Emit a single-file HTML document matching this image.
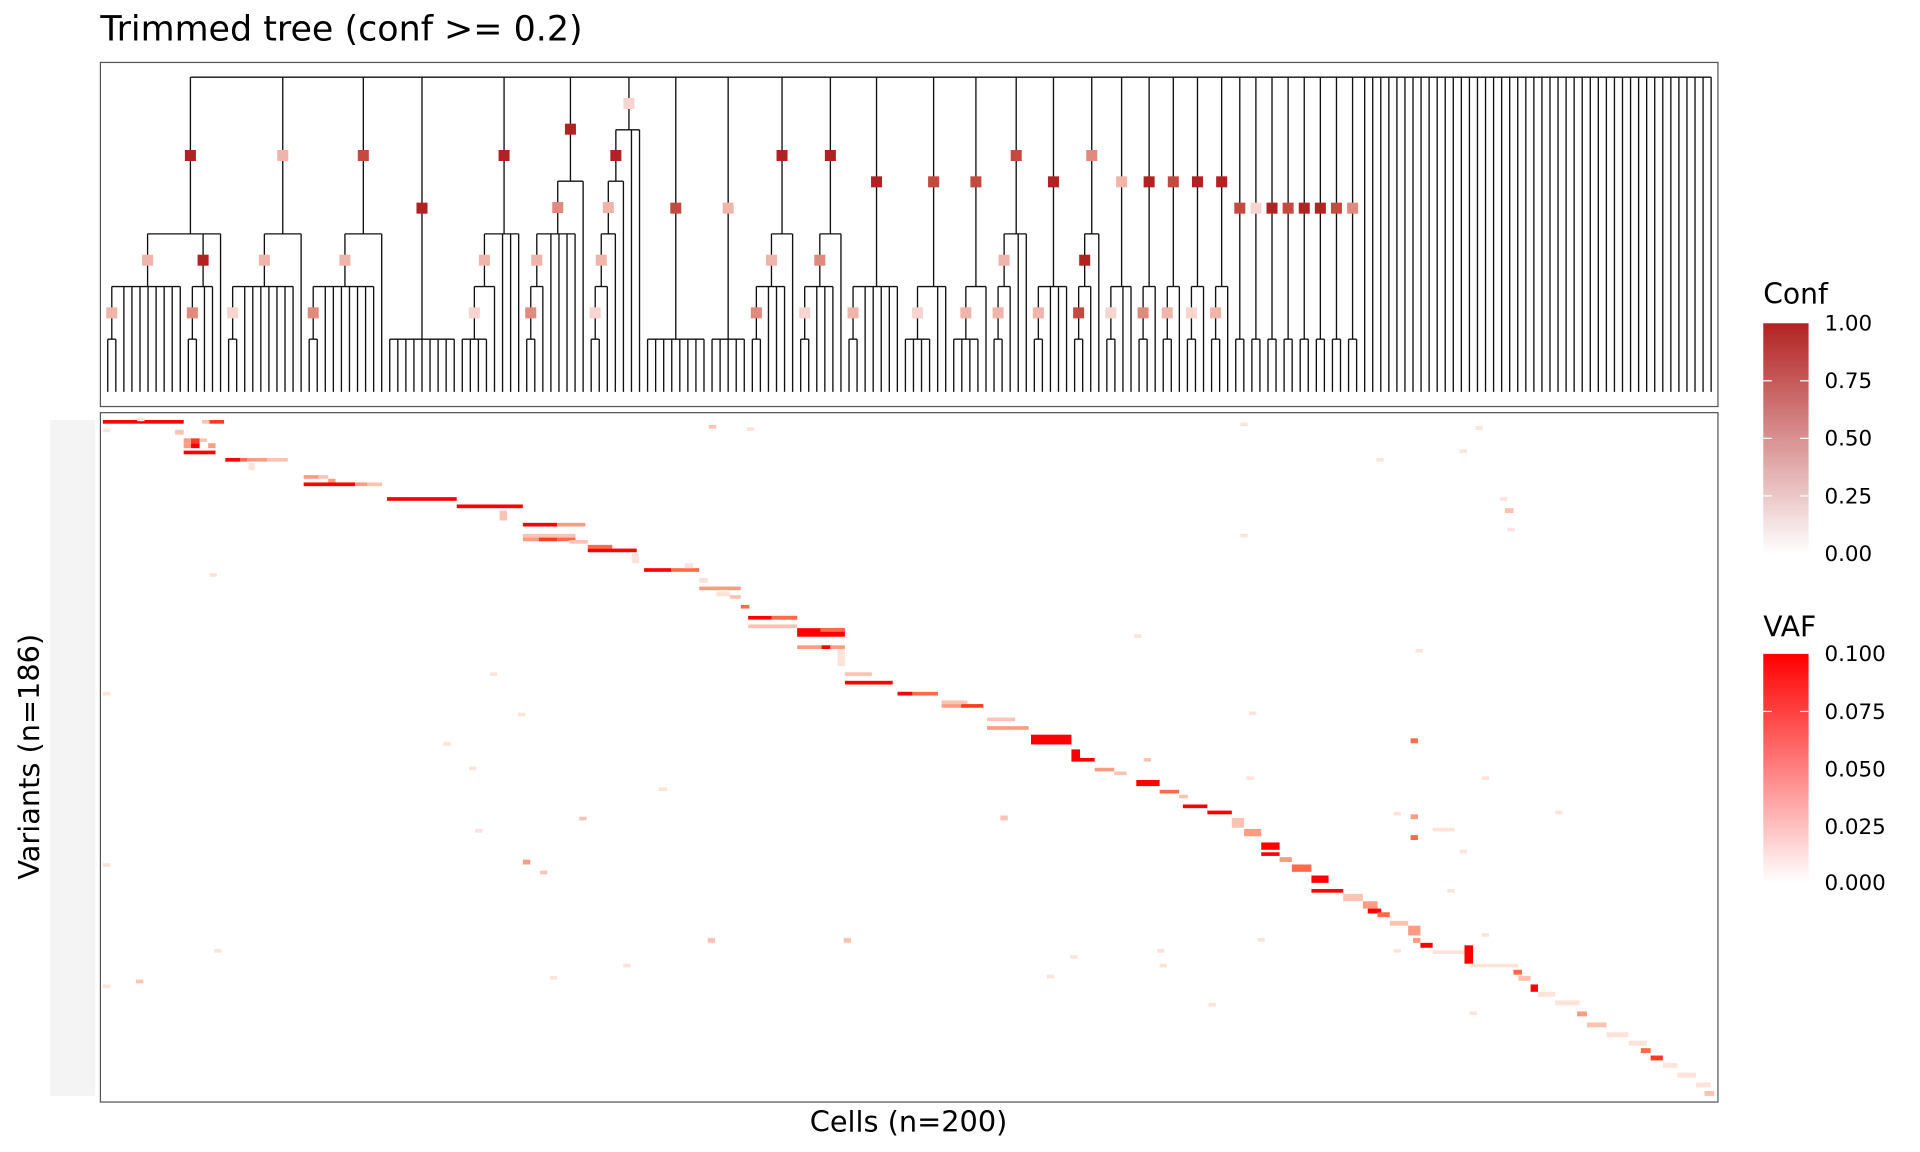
<!DOCTYPE html>
<html><head><meta charset="utf-8"><style>
html,body{margin:0;padding:0;background:#fff;}
svg{display:block;}
text{font-family:"DejaVu Sans","Liberation Sans",sans-serif;fill:#000;}
</style></head><body>
<svg id="s" width="1920" height="1152" viewBox="0 0 1568 940.8" xmlns="http://www.w3.org/2000/svg">
<defs>
<linearGradient id="gc" x1="0" y1="1" x2="0" y2="0"><stop offset="0" stop-color="#ffffff"/><stop offset="1" stop-color="#b22222"/></linearGradient>
<linearGradient id="gv" x1="0" y1="1" x2="0" y2="0"><stop offset="0" stop-color="#ffffff"/><stop offset="1" stop-color="#ff0000"/></linearGradient>
</defs>
<rect width="1568" height="941" fill="#fff"/>
<text x="82" y="33" font-size="28.5">Trimmed tree (conf &gt;= 0.2)</text>
<rect x="82" y="51" width="1321" height="281" fill="none" stroke="#555" stroke-width="1"/>
<rect x="82" y="337" width="1321" height="563" fill="none" stroke="#555" stroke-width="1"/>
<g id="tree"></g>
<g id="heat"></g>
<rect x="41" y="343" width="37" height="552" fill="#b8b8b8" opacity="0.15"/>
<text x="742" y="924" font-size="23.5" text-anchor="middle">Cells (n=200)</text>
<text transform="translate(32,618) rotate(-90)" font-size="23.5" text-anchor="middle">Variants (n=186)</text>
<text x="1440" y="248" font-size="23">Conf</text>
<rect x="1440" y="264" width="37" height="188" fill="url(#gc)"/>
<g stroke="#fff" stroke-width="1">
<line x1="1440" y1="311" x2="1447" y2="311"/><line x1="1470" y1="311" x2="1477" y2="311"/>
<line x1="1440" y1="358" x2="1447" y2="358"/><line x1="1470" y1="358" x2="1477" y2="358"/>
<line x1="1440" y1="405" x2="1447" y2="405"/><line x1="1470" y1="405" x2="1477" y2="405"/>
<line x1="1440" y1="628" x2="1447" y2="628"/><line x1="1470" y1="628" x2="1477" y2="628"/>
<line x1="1440" y1="675" x2="1447" y2="675"/><line x1="1470" y1="675" x2="1477" y2="675"/>
</g>
<g font-size="17.5">
<text x="1490" y="270">1.00</text><text x="1490" y="317">0.75</text><text x="1490" y="364">0.50</text><text x="1490" y="411">0.25</text><text x="1490" y="458">0.00</text>
</g>
<text x="1440" y="520" font-size="23">VAF</text>
<rect x="1440" y="534" width="37" height="187" fill="url(#gv)"/>
<g stroke="#fff" stroke-width="1">
<line x1="1440" y1="581" x2="1447" y2="581"/><line x1="1470" y1="581" x2="1477" y2="581"/>
</g>
<g font-size="17.5">
<text x="1490" y="540">0.100</text><text x="1490" y="587">0.075</text><text x="1490" y="634">0.050</text><text x="1490" y="681">0.025</text><text x="1490" y="727">0.000</text>
</g>
</svg>
<script>
var NS="http://www.w3.org/2000/svg";
function el(p,t,a){var e=document.createElementNS(NS,t);for(var k in a)e.setAttribute(k,a[k]);p.appendChild(e);return e;}
var T=document.getElementById('tree');
var L=[63,106,148,191,234,277],BOT=320;
var C={D:'#b22222',M:'#c44a40',P:'#e08a7e',L:'#efb5ab',V:'#f6d5d0'};
function N(l,c){return {l:l,c:c,k:Array.prototype.slice.call(arguments,2)};}
var li=0;function lx(){return 88+(li++)*6.58;}
var marks=[];
function line(x1,y1,x2,y2){el(T,'line',{x1:x1,y1:y1,x2:x2,y2:y2,stroke:'#111','stroke-width':1.1});}
function lay(n){var y=L[n.l],xs=[];
 n.k.forEach(function(ch){
  if(typeof ch==='number'){for(var i=0;i<ch;i++){var x=lx();line(x,y,x,BOT);xs.push(x);}}
  else{var x=lay(ch);var cy=L[ch.l];line(x,y,x,cy);if(ch.c)marks.push([x,(y+cy)/2,C[ch.c]]);xs.push(x);}
 });
 line(Math.min.apply(0,xs),y,Math.max.apply(0,xs),y);
 var s=0;xs.forEach(function(v){s+=v});return s/xs.length;}
var cl=[
N(3,'D',N(4,'L',N(5,'L',2),8),N(4,'D',N(5,'P',2),2),1),
N(3,'L',N(4,'L',N(5,'V',2),7),1),
N(3,'M',N(4,'L',N(5,'P',2),7),1),
N(5,'D',9),
N(3,'D',N(4,'L',N(5,'V',4),1),3),
N(2,'D',N(3,'P',N(4,'L',N(5,'P',2),1),4),1),
N(1,'V',N(2,'D',N(3,'L',N(4,'L',N(5,'V',2),1),1),1),2),
N(5,'M',8),
N(5,'L',5),
N(3,'D',N(4,'L',N(5,'P',2),3),1),
N(3,'D',N(4,'P',N(5,'V',2),3),1),
N(4,'D',N(5,'L',2),5),
N(4,'M',N(5,'V',4),2),
N(4,'M',N(5,'L',4),1),
N(3,'M',N(4,'L',N(5,'L',2),1),2),
N(4,'D',N(5,'L',2),3),
N(3,'P',N(4,'D',N(5,'M',2),1),1),
N(4,'L',N(5,'V',2),2),
N(4,'D',N(5,'P',2),1),
N(4,'M',N(5,'L',2),1),
N(4,'D',N(5,'V',2),1),
N(4,'D',N(5,'L',2),1),
N(5,'M',2),N(5,'V',2),N(5,'D',2),N(5,'M',2),N(5,'D',2),N(5,'D',2),N(5,'M',2),N(5,'P',2)
];
var cnt=0;function cc(n){n.k.forEach(function(c){cnt+=typeof c==='number'?c:0;if(typeof c!=='number')cc(c);});}
cl.forEach(cc);
var root={l:0,k:cl.concat([200-cnt])};
var y0=L[0],xs=[];
root.k.forEach(function(ch){
 if(typeof ch==='number'){for(var i=0;i<ch;i++){var x=lx();line(x,y0,x,BOT);xs.push(x);}}
 else{var x=lay(ch);var cy=L[ch.l];line(x,y0,x,cy);if(ch.c)marks.push([x,(y0+cy)/2,C[ch.c]]);xs.push(x);}
});
line(Math.min.apply(0,xs),y0,Math.max.apply(0,xs),y0);
marks.forEach(function(m){el(T,'rect',{x:m[0]-4.5,y:m[1]-4.5,width:9,height:9,fill:m[2]});});
var H=document.getElementById('heat');
var R='#ff0000',R2='#ff3a22',R3='#ff6a4a',P1='#fd9c82',P2='#fcc3b2',P3='#fee3da';
var rects=[
[84,150,343,3,R],[171,183,343,3,R2],[165,171,343,3,P2],[112,118,341,3,P3],[84,90,350,3,P3],[143,150,351,4,P2],
[150,156,358,4,P1],[156,163,358,4,R2],[163,169,358,3,P2],[156,163,362,4,R],[150,156,362,4,P1],[170,176,362,4,P1],[150,176,368,3,R],
[184,196,374,3,R],[196,202,374,3,R3],[202,218,374,3,P1],[218,235,374,3,P2],[203,208,378,6,P3],
[248,260,388,3,P1],[260,268,388,3,P2],[268,274,391,3,P1],[248,290,394,3,R],[290,300,394,3,P1],[300,312,394,3,P2],
[316,373,406,3,R],[373,427,412,3,R],[408,414,417,8,P2],[427,455,427,3,R],[455,478,427,3,P1],
[427,440,439,3,P1],[440,455,439,3,R2],[455,470,439,3,R3],[427,470,436,3,P2],[465,480,441,3,P2],
[480,520,448,3,R],[480,500,445,3,R3],[516,522,452,8,P3],[526,548,464,3,R],[548,571,464,3,R3],[559,566,460,4,P3],
[571,578,472,4,P3],[571,605,479,3,P1],[585,596,483,4,P3],[596,605,486,3,P2],[605,612,494,3,R3],
[611,651,503,3,R],[630,651,503,3,R3],[611,651,510,3,P2],[651,690,513,7,R],[670,690,513,3,R3],[651,690,527,3,P1],[671,678,527,3,R],
[684,690,530,14,P3],[690,712,549,3,P2],[690,729,556,3,R],[733,766,565,3,R3],[733,745,565,3,R],
[769,790,575,3,P1],[785,803,575,3,R2],[769,790,572,3,P2],[806,829,586,3,P2],[806,840,593,3,P1],
[842,875,600,8,R],[875,882,612,8,R],[875,894,619,3,R],[894,910,627,3,P1],[910,920,630,3,P2],
[928,947,637,5,R],[947,963,645,3,R3],[963,970,649,3,P2],[966,986,657,3,R],[986,1006,662,3,R],
[1006,1016,668,8,P2],[1016,1030,677,6,P1],[1030,1045,688,6,R],[1030,1045,696,3,R],[1045,1055,700,4,P1],
[1055,1071,706,6,R3],[1071,1085,715,6,R],[1071,1097,726,3,R],[1097,1113,730,6,P2],[1113,1125,736,6,P1],
[1117,1128,742,4,R],[1125,1135,745,4,R3],[1135,1150,752,4,P2],[1150,1160,756,8,P1],[1160,1170,770,4,R],
[1170,1200,776,3,P3],[1196,1203,772,15,R],[1200,1240,787,3,P3],[1236,1243,792,4,R3],[1240,1250,797,4,P2],
[1250,1256,804,6,R],[1256,1270,810,4,P3],[1270,1290,817,4,P3],[1288,1296,826,4,P1],[1296,1312,835,4,P2],
[1312,1330,843,4,P3],[1330,1345,850,4,P3],[1340,1348,856,4,R3],[1348,1358,862,4,R2],[1358,1370,868,4,P3],
[1370,1385,876,4,P3],[1385,1397,884,4,P3],[1392,1400,891,4,P2],
[579,585,347,3,P2],[610,616,349,3,P3],[1013,1019,345,3,P3],[1192,1198,367,3,P3],[1205,1211,348,3,P3],
[1124,1130,374,3,P3],[1225,1231,406,3,P3],[1229,1236,415,4,P2],[1231,1237,431,3,P3],[1013,1019,436,3,P3],
[171,177,468,3,P3],[926,932,518,3,P3],[1156,1162,530,3,P3],[400,406,549,3,P3],[84,90,565,3,P3],[423,429,582,3,P3],
[1020,1026,581,3,P3],[1152,1158,603,4,R3],[934,940,619,3,P2],[362,368,606,3,P3],[1210,1216,634,3,P3],[1018,1024,634,3,P3],
[383,389,626,3,P3],[538,545,643,3,P3],[817,823,666,4,P2],[473,479,667,3,P2],[1152,1158,665,4,P1],[1138,1144,663,3,P3],
[1270,1276,662,3,P3],[1152,1158,682,4,R3],[1170,1188,676,3,P3],[388,394,677,3,P3],[427,433,702,4,P1],[441,447,711,3,P2],
[84,90,705,3,P3],[1192,1198,694,3,P3],[578,584,766,4,P2],[689,695,766,4,P2],[1138,1144,775,3,P3],[1027,1033,766,3,P3],
[175,181,775,3,P3],[874,880,780,3,P3],[945,951,775,3,P3],[1154,1160,766,4,P1],[111,117,800,3,P2],[84,90,804,3,P3],
[509,515,787,3,P3],[855,861,796,3,P3],[947,953,787,3,P3],[449,455,797,3,P3],[987,993,819,3,P3],[1200,1206,826,3,P3],
[1210,1216,762,3,P3],[1182,1188,726,3,P3]
];
rects.forEach(function(r){el(H,'rect',{x:r[0],y:r[2],width:r[1]-r[0],height:r[3],fill:r[4]});});
</script>
</body></html>
